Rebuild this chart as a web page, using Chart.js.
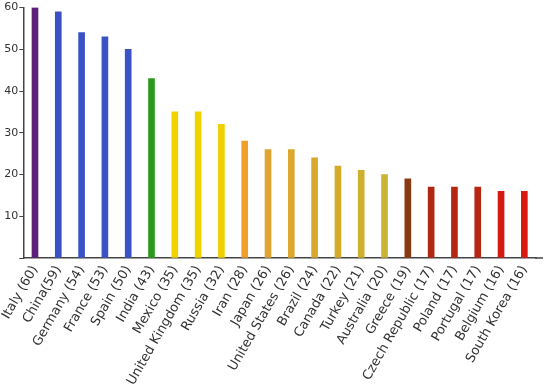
<!DOCTYPE html>
<html>
<head>
<meta charset="utf-8">
<script src="https://cdn.jsdelivr.net/npm/chart.js@4/dist/chart.umd.min.js"></script>
<style>
  html, body { margin: 0; padding: 0; background: #fff; }
  #wrap { width: 550px; height: 392px; }
</style>
</head>
<body>
<div id="wrap"><canvas id="barChart"></canvas></div>
<script>
const countries = ['Italy (60)', 'China(59)', 'Germany (54)', 'France (53)', 'Spain (50)', 'India (43)',
  'Mexico (35)', 'United Kingdom (35)', 'Russia (32)', 'Iran (28)', 'Japan (26)', 'United States (26)',
  'Brazil (24)', 'Canada (22)', 'Turkey (21)', 'Australia (20)', 'Greece (19)', 'Czech Republic (17)',
  'Poland (17)', 'Portugal (17)', 'Belgium (16)', 'South Korea (16)'];
const counts = [60, 59, 54, 53, 50, 43, 35, 35, 32, 28, 26, 26, 24, 22, 21, 20, 19, 17, 17, 17, 16, 16];
const barColors = ['#5b1f7c', '#3a52c6', '#3a52c6', '#3a52c6', '#3a52c6', '#2b9a1c',
  '#f2d300', '#f2d300', '#f0d000', '#ee9f2c', '#e0a430', '#dca82e',
  '#d8a92c', '#d2ab2a', '#cdb030', '#c9b434', '#8a3a12', '#b02812',
  '#b42812', '#b82612', '#d21a10', '#d81a10'];
const yTicks = [10, 20, 30, 40, 50, 60];

// the base line runs a little past the last category
const axisTail = {
  id: 'axisTail',
  afterDraw(chart) {
    const { ctx, chartArea } = chart;
    ctx.save();
    ctx.strokeStyle = '#444';
    ctx.lineWidth = 1.5;
    ctx.beginPath();
    ctx.moveTo(chartArea.right - 1, chartArea.bottom);
    ctx.lineTo(chartArea.right + 7, chartArea.bottom);
    ctx.stroke();
    ctx.restore();
  }
};

const ctx = document.getElementById('barChart');
new Chart(ctx, {
  type: 'bar',
  data: {
    labels: countries,
    datasets: [{ data: counts, backgroundColor: barColors, barThickness: 6 }]
  },
  options: {
    responsive: true,
    maintainAspectRatio: false,
    animation: false,
    layout: { padding: { top: 6, right: 14, left: 0, bottom: 0 } },
    plugins: { legend: { display: false }, tooltip: { enabled: false } },
    scales: {
      x: {
        grid: { display: false, drawTicks: false },
        border: { color: '#444', width: 1.5 },
        ticks: {
          color: '#333', minRotation: 60, maxRotation: 60, autoSkip: false, padding: 5,
          font: { family: 'DejaVu Sans', size: 13 }
        },
        afterFit: s => { s.height = 134; }
      },
      y: {
        min: 0, max: 60,
        afterBuildTicks: s => { s.ticks = [0].concat(yTicks).map(v => ({ value: v })); },
        grid: { display: true, drawOnChartArea: false, drawTicks: true, tickLength: 4, color: '#444' },
        border: { color: '#444', width: 1.5 },
        ticks: {
          color: '#333', padding: 1,
          font: { family: 'DejaVu Sans', size: 11 },
          callback: v => v === 0 ? '' : v
        },
        afterFit: s => { s.width = 21; }
      }
    }
  },
  plugins: [axisTail]
});
</script>
</body>
</html>
